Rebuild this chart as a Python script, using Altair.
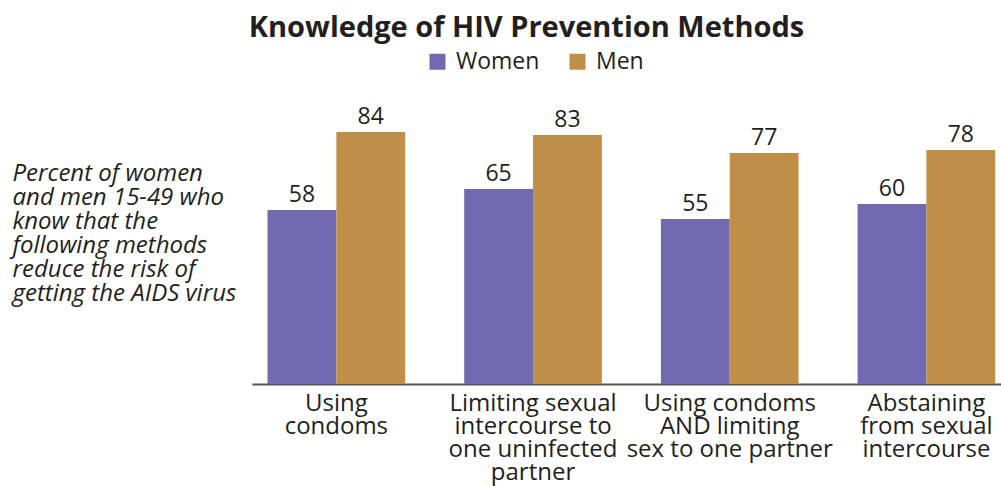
import altair as alt
import pandas as pd

categories = [
    "Using\ncondoms",
    "Limiting sexual\nintercourse to\none uninfected\npartner",
    "Using condoms\nAND limiting\nsex to one partner",
    "Abstaining\nfrom sexual\nintercourse",
]
series = ["Women", "Men"]
women = [58, 65, 55, 60]
men = [84, 83, 77, 78]
colors = ["#726AB0", "#BF8F4A"]
side_text = [
    "Percent of women",
    "and men 15-49 who",
    "know that the",
    "following methods",
    "reduce the risk of",
    "getting the AIDS virus",
]
title_text = "Knowledge of HIV Prevention Methods"

rows = []
for c, w, m in zip(categories, women, men):
    rows.append({"cat": c, "sex": "Women", "value": w})
    rows.append({"cat": c, "sex": "Men", "value": m})
df = pd.DataFrame(rows)

FONT = "Open Sans"
TXT = "#231f20"

x_enc = alt.X(
    "cat:N",
    sort=categories,
    scale=alt.Scale(paddingInner=0.3, paddingOuter=0.054, align=0.73),
    axis=alt.Axis(
        title=None,
        labelAngle=0,
        ticks=False,
        domainColor="#555555",
        domainWidth=2,
        labelFont=FONT,
        labelFontSize=24,
        labelColor=TXT,
        labelLineHeight=23,
        labelPadding=7,
        labelBaseline="top",
        labelLimit=0,
        labelOverlap=False,
        labelExpr="split(datum.label, '\\n')",
    ),
)
xoff = alt.XOffset("sex:N", sort=series, scale=alt.Scale(paddingInner=0, paddingOuter=0))
y_enc = alt.Y(
    "value:Q",
    scale=alt.Scale(domain=[0, 100]),
    axis=alt.Axis(
        title=side_text,
        labels=False,
        ticks=False,
        domain=False,
        grid=False,
        titleAngle=0,
        titleAlign="left",
        titleBaseline="top",
        titleX=-240,
        titleY=77,
        titleFont=FONT,
        titleFontStyle="italic",
        titleFontWeight="normal",
        titleFontSize=24,
        titleLineHeight=24,
        titleColor=TXT,
        titleLimit=0,
    ),
)

base = alt.Chart(df)
bars = base.mark_bar().encode(
    x=x_enc,
    xOffset=xoff,
    y=y_enc,
    color=alt.Color(
        "sex:N",
        sort=series,
        scale=alt.Scale(domain=series, range=colors),
        legend=alt.Legend(
            title=None,
            orient="none",
            legendX=174,
            legendY=-34,
            direction="horizontal",
            symbolType="square",
            symbolSize=256,
            symbolStrokeWidth=0,
            symbolOpacity=1,
            labelFont=FONT,
            labelFontSize=23,
            labelColor=TXT,
            labelOffset=7,
            columnPadding=26,
        ),
    ),
)
labels = base.mark_text(
    baseline="alphabetic", dy=-8, font=FONT, fontSize=23, color=TXT
).encode(
    x=alt.X("cat:N", sort=categories),
    xOffset=alt.XOffset("sex:N", sort=series),
    y="value:Q",
    text="value:Q",
)

chart = (
    alt.layer(bars, labels)
    .properties(
        width=749,
        height=300,
        title=alt.TitleParams(
            title_text,
            font=FONT,
            fontSize=29,
            fontWeight="bold",
            color=TXT,
            anchor="middle",
            frame="group",
            dx=-100,
            offset=7,
        ),
        autosize=alt.AutoSizeParams(type="none"),
        padding={"left": 252, "top": 84, "right": 0, "bottom": 102},
    )
    .configure_view(stroke=None)
)

chart.save("out.html", embed_options={"renderer": "svg", "actions": False})
